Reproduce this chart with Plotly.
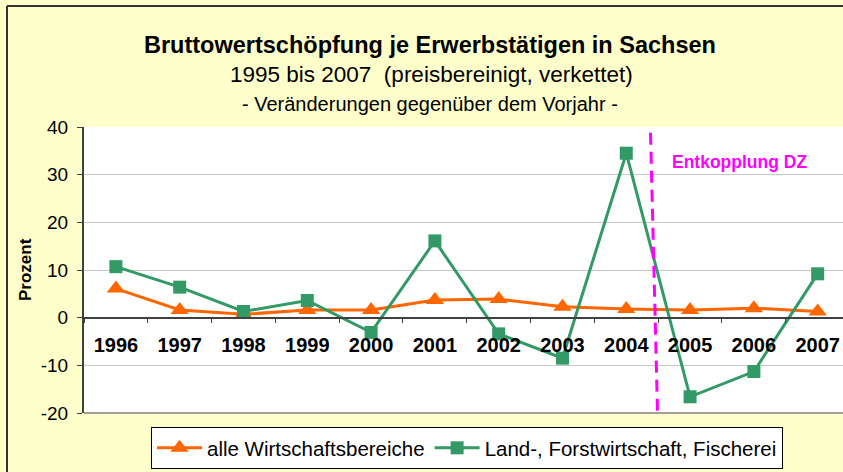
import plotly.graph_objects as go

years = ["1996", "1997", "1998", "1999", "2000", "2001", "2002", "2003", "2004", "2005", "2006", "2007"]
alle = [6.1, 1.6, 0.7, 1.6, 1.6, 3.7, 3.9, 2.3, 1.8, 1.6, 2.0, 1.3]
land = [10.7, 6.4, 1.3, 3.6, -3.1, 16.1, -3.4, -8.5, 34.5, -16.6, -11.3, 9.2]
name_alle = "alle Wirtschaftsbereiche"
name_land = "Land-, Forstwirtschaft, Fischerei"
title_lines = ["Bruttowertschöpfung je Erwerbstätigen in Sachsen",
               "1995 bis 2007  (preisbereinigt, verkettet)",
               "- Veränderungen gegenüber dem Vorjahr -"]
y_ticks = [-20, -10, 0, 10, 20, 30, 40]
y_ticktext = ["-20", "-10", "0", "10", "20", "30", "40"]

W, H = 843, 472
L, R, T, B = 84, 0, 127, 59
pw, ph = W - L - R, H - T - B

def px_x(p):
    return (p - L) / pw

def px_y(p):
    return (H - B - p) / ph

FONT = "Liberation Sans, Arial, sans-serif"
orange = "#FF6600"
green = "#339966"

fig = go.Figure()
fig.add_trace(go.Scatter(x=years, y=alle, name=name_alle, mode="lines+markers",
                         line=dict(color=orange, width=3),
                         marker=dict(symbol="triangle-up", size=16, color=orange)))
fig.add_trace(go.Scatter(x=years, y=land, name=name_land, mode="lines+markers",
                         line=dict(color=green, width=3),
                         marker=dict(symbol="square", size=13, color=green)))

annotations = [
    dict(text="<b>" + title_lines[0] + "</b>", x=px_x(430), y=px_y(45), font=dict(size=23.5)),
    dict(text=title_lines[1], x=px_x(431), y=px_y(75), font=dict(size=22.5)),
    dict(text=title_lines[2], x=px_x(430), y=px_y(104), font=dict(size=20)),
    dict(text="<b>Prozent</b>", x=px_x(25), y=0.5, textangle=-90, font=dict(size=17)),
]
for a in annotations:
    a.update(xref="paper", yref="paper", showarrow=False, xanchor="center", yanchor="middle")
    a["font"].update(family=FONT, color="black")

annotations.append(dict(text="<b>Entkopplung DZ</b>", x=px_x(739), y=px_y(162), xref="paper", yref="paper",
                        showarrow=False, xanchor="center", yanchor="middle",
                        font=dict(family=FONT, size=17.5, color="#FF00FF")))

shapes = [
    dict(type="line", xref="x", yref="y", x0=8.38, y0=38.8, x1=8.49, y1=-20,
         line=dict(color="#FF00FF", width=3, dash="12px,7px")),
    dict(type="line", xref="paper", yref="paper", x0=0, y0=0, x1=1, y1=0,
         line=dict(color="#808080", width=1.5), layer="below"),
    dict(type="line", xref="paper", yref="paper", x0=px_x(7), y0=px_y(6), x1=px_x(7), y1=px_y(480),
         line=dict(color="#333333", width=2)),
    dict(type="line", xref="paper", yref="paper", x0=px_x(7), y0=px_y(6), x1=px_x(850), y1=px_y(6),
         line=dict(color="#333333", width=2)),
]

fig.update_layout(
    width=W, height=H,
    margin=dict(l=L, r=R, t=T, b=B),
    paper_bgcolor="#FFFFCC", plot_bgcolor="white",
    font=dict(family=FONT, color="black"),
    showlegend=True,
    legend=dict(orientation="h", x=px_x(467), y=px_y(448), xanchor="center", yanchor="middle",
                bgcolor="white", bordercolor="black", borderwidth=1,
                font=dict(size=20.5, family=FONT), itemwidth=45, tracegroupgap=0),
    annotations=annotations,
    shapes=shapes,
    xaxis=dict(type="category", range=[-0.5, 11.397], anchor="free", position=1/3,
               showline=True, linecolor="#404040", linewidth=1.5,
               ticks="outside", tickson="boundaries", ticklen=5, tickcolor="#404040",
               showgrid=False, zeroline=False, ticklabelstandoff=10,
               tickfont=dict(size=20, family=FONT, weight="bold")),
    yaxis=dict(range=[-20, 40], tickvals=y_ticks, ticktext=y_ticktext,
               showline=True, linecolor="#404040", linewidth=2,
               ticks="outside", ticklen=5, tickcolor="#404040", ticklabelstandoff=5,
               showgrid=True, gridcolor="#C8C8C8", gridwidth=1, zeroline=False,
               tickfont=dict(size=19, family=FONT)),
)

fig.write_html("out.html", config={"displayModeBar": False},
               post_script="document.body.style.margin='0';document.body.style.overflow='hidden';")
